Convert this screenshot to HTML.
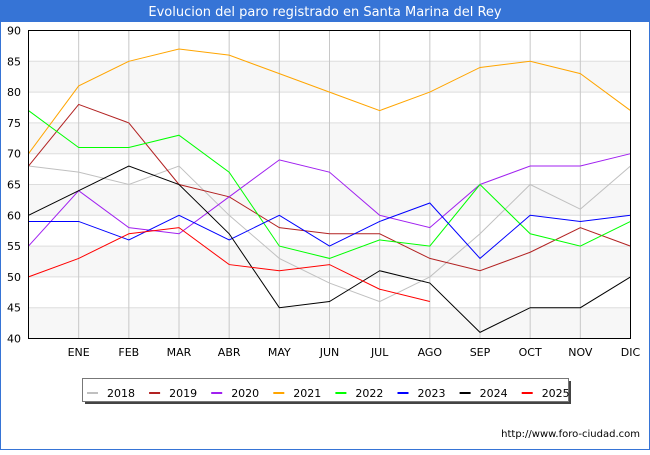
<!DOCTYPE html>
<html><head><meta charset="utf-8"><style>
body{margin:0;background:#fff;font-family:"Liberation Sans","DejaVu Sans",sans-serif}
svg text{font-family:"DejaVu Sans","Liberation Sans",sans-serif}
</style></head><body>
<svg id="c" width="650" height="450" xmlns="http://www.w3.org/2000/svg">
<rect x="0" y="0" width="650" height="450" fill="#fff"/>
<rect x="0.5" y="0.5" width="649" height="449" fill="none" stroke="#3674d6"/>
<rect x="0" y="0" width="650" height="22" fill="#3674d6"/>
<text x="325" y="16" text-anchor="middle" fill="#fff" font-size="13">Evolucion del paro registrado en Santa Marina del Rey</text>
<g id="grid"></g>
<g id="series"></g>
<rect x="28.5" y="30.5" width="602" height="308" fill="none" stroke="#000"/>
<g id="legend"></g>
<text x="640" y="437" text-anchor="end" font-size="10" fill="#000">http://www.foro-ciudad.com</text>
</svg>
<script>
const months=["","ENE","FEB","MAR","ABR","MAY","JUN","JUL","AGO","SEP","OCT","NOV","DIC"];
const yTicks=[40,45,50,55,60,65,70,75,80,85,90];
const years=["2018","2019","2020","2021","2022","2023","2024","2025"];
const colors=["#c0c0c0","#b22222","#a020f0","#ffa500","#00ff00","#0000ff","#000000","#ff0000"];
const s2018=[68,67,65,68,60,53,49,46,50,57,65,61,68];
const s2019=[68,78,75,65,63,58,57,57,53,51,54,58,55];
const s2020=[55,64,58,57,63,69,67,60,58,65,68,68,70];
const s2021=[70,81,85,87,86,83,80,77,80,84,85,83,77];
const s2022=[77,71,71,73,67,55,53,56,55,65,57,55,59];
const s2023=[59,59,56,60,56,60,55,59,62,53,60,59,60];
const s2024=[60,64,68,65,57,45,46,51,49,41,45,45,50];
const s2025=[50,53,57,58,52,51,52,48,46];
const series=[s2018,s2019,s2020,s2021,s2022,s2023,s2024,s2025];
const NS="http://www.w3.org/2000/svg";
const X0=28.5,X1=630.5,Y0=338.5,Y1=30.5;
const xs=i=>X0+i*(X1-X0)/12;
const ys=v=>Y0-(v-40)*(Y0-Y1)/50;
function mk(t,a,p){const e=document.createElementNS(NS,t);for(const k in a)e.setAttribute(k,a[k]);p.appendChild(e);return e;}
const grid=document.getElementById('grid');
for(let i=0;i<yTicks.length-1;i++){
  if(i%2===0){const b=mk('rect',{x:X0,y:ys(yTicks[i+1]),width:X1-X0,height:ys(yTicks[i])-ys(yTicks[i+1]),fill:'#f7f7f7'},grid);
  
  }
}
yTicks.forEach(v=>{
  const l=mk('line',{x1:X0,x2:X1,y1:ys(v),y2:ys(v),stroke:'#dddddd'},grid);
  
  
  const t=mk('text',{x:21,y:ys(v)+4,'text-anchor':'end','font-size':'11',fill:'#000'},grid);t.textContent=v;
  
  
});
months.forEach((m,i)=>{
  if(i>0&&i<12){const l=mk('line',{x1:xs(i),x2:xs(i),y1:Y1,y2:Y0,stroke:'#c8c8c8'},grid);
  
  }
  if(m){const t=mk('text',{x:xs(i),y:356,'text-anchor':'middle','font-size':'11',fill:'#000'},grid);t.textContent=m;
  
  }
});
const sg=document.getElementById('series');
series.forEach((s,k)=>{
  const p=mk('polyline',{points:s.map((v,i)=>xs(i)+','+ys(v)).join(' '),fill:'none',stroke:colors[k],'stroke-width':'1'},sg);
  
  
});
const lg=document.getElementById('legend');
const sh=mk('rect',{x:85,y:381,width:486,height:23,fill:'#444'},lg);


const bx=mk('rect',{x:82.5,y:378.5,width:486,height:23,fill:'#fff',stroke:'#777'},lg);


years.forEach((y,k)=>{
  const x=87+k*62.1;
  const l=mk('line',{x1:x,x2:x+11,y1:393,y2:393,stroke:colors[k],'stroke-width':'2'},lg);
  
  
  const t=mk('text',{x:x+20,y:397,'font-size':'11',fill:'#000'},lg);t.textContent=y;
  
  
});
</script>
</body></html>
